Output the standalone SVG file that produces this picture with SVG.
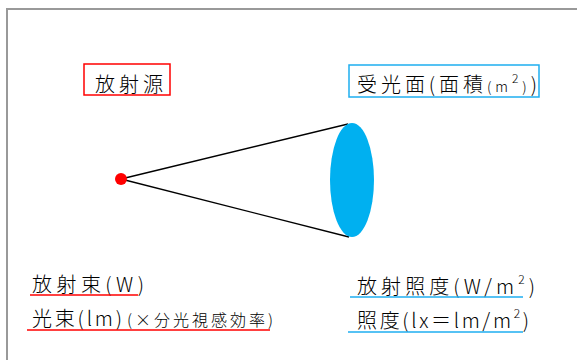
<svg xmlns="http://www.w3.org/2000/svg" width="577" height="360" viewBox="0 0 577 360">
<style>
.t{font-family:"Noto Sans CJK JP","Noto Sans",sans-serif;font-size:20px;font-weight:300;fill:#000}
.s{font-size:14px}
.sup{font-size:12px}
.ul-r{stroke:#FF0000;stroke-width:1.5}
.ul-b{stroke:#1EAEF0;stroke-width:1.5}
</style>
<rect x="0" y="0" width="577" height="360" fill="#fff"/>
<rect x="7" y="9" width="580" height="360" fill="none" stroke="#999" stroke-width="2"/>
<g id="connectors">
<line x1="121" y1="179" x2="348" y2="124" stroke="#000" stroke-width="1.3"/>
<line x1="121" y1="179" x2="349" y2="237" stroke="#000" stroke-width="1.3"/>
</g>
<g id="source">
<circle cx="121" cy="179" r="6" fill="#FF0000"/>
</g>
<g id="receiver">
<ellipse cx="352" cy="180" rx="22" ry="57" fill="#00B0F0"/>
</g>
<g id="label-source">
<rect x="84" y="64" width="86" height="31" fill="none" stroke="#FF0000" stroke-width="1.5"/>
<text class="t" x="95" y="92" textLength="68" lengthAdjust="spacing">放射源</text>
</g>
<g id="label-receiver">
<rect x="349" y="65" width="190" height="32" fill="none" stroke="#1EAEF0" stroke-width="1.5"/>
<text class="t" x="357" y="92" textLength="180" lengthAdjust="spacing">受光面(面積<tspan class="s">(m</tspan><tspan class="sup" dy="-9">2</tspan><tspan class="s" dy="9">)</tspan>)</text>
</g>
<g id="radiant-flux">
<text class="t" x="32" y="292" textLength="112" lengthAdjust="spacing">放射束(W)</text>
<line class="ul-r" x1="30" y1="295" x2="138" y2="295"/>
</g>
<g id="luminous-flux">
<text class="t" x="32" y="326" textLength="90" lengthAdjust="spacing">光束(lm)</text>
<text class="t" x="127" y="326" style="font-size:16px" textLength="146" lengthAdjust="spacing">(×分光視感効率)</text>
<line class="ul-r" x1="27" y1="330" x2="270" y2="330"/>
</g>
<g id="irradiance">
<text class="t" x="357" y="294" textLength="178" lengthAdjust="spacing">放射照度(W/m<tspan class="sup" dy="-10">2</tspan><tspan dy="10">)</tspan></text>
<line class="ul-b" x1="350" y1="297" x2="523" y2="297"/>
</g>
<g id="illuminance">
<text class="t" x="357" y="328" textLength="172" lengthAdjust="spacing">照度(lx＝lm/m<tspan class="sup" dy="-10">2</tspan><tspan dy="10">)</tspan></text>
<line class="ul-b" x1="348" y1="332" x2="523" y2="332"/>
</g>
</svg>
